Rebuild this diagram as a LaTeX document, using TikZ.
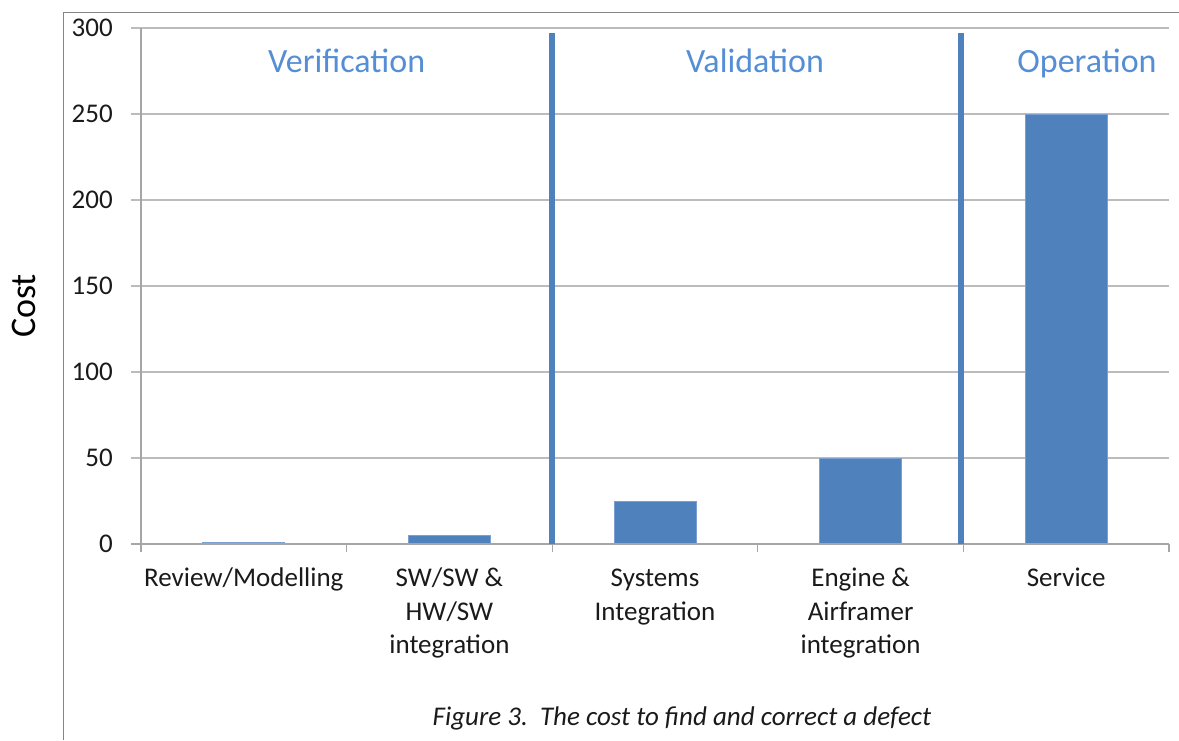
\documentclass[tikz,border=0pt]{standalone}
\usepackage{fontspec}
\setmainfont{Carlito}
\definecolor{barblue}{HTML}{4F81BD}
\definecolor{baredge}{HTML}{7A9FD0}
\definecolor{phaseblue}{HTML}{558ED5}
\definecolor{gridgray}{HTML}{BCBCBC}
\definecolor{axisgray}{HTML}{A6A6A6}
\definecolor{framegray}{HTML}{858585}
\definecolor{textdark}{HTML}{1A1A1A}
\tikzset{
  gridline/.style={draw=gridgray, line width=1.3pt},
  axisline/.style={draw=axisgray, line width=1.3pt},
  frameline/.style={draw=framegray, line width=1.4pt},
  barbox/.style={fill=barblue, draw=baredge, line width=0.8pt},
  sepline/.style={draw=barblue, line width=5.5pt},
  phaselabel/.style={text=phaseblue, font=\fontsize{34}{40}\selectfont, anchor=base, inner sep=0pt},
  ticklabel/.style={text=textdark, font=\fontsize{27}{33.5}\selectfont, anchor=east, inner sep=0pt},
  catlabel/.style={text=textdark, font=\fontsize{27}{33.5}\selectfont, anchor=base, inner sep=0pt},
  axistitle/.style={text=black, font=\fontsize{36}{42}\selectfont, inner sep=0pt},
  captionlabel/.style={text=textdark, font=\fontsize{27}{33}\selectfont\itshape, anchor=base, inner sep=0pt},
}
\begin{document}
\begin{tikzpicture}[x=1pt,y=-1pt]
\useasboundingbox (0,0) rectangle (1179,740);
% outer frame (top and left edges)
\draw[frameline] (63.5,740) -- (63.5,12.5) -- (1179,12.5);
% horizontal gridlines with tick labels
\foreach \v in {0,50,...,300}{
  \pgfmathsetmacro{\yy}{544-1.72*\v}
  \draw[gridline] (131,\yy) -- (1169,\yy);
  \node[ticklabel] (t\v) at (113,\yy) {\v};
}
% bars
\foreach \i/\v in {0/1,1/5,2/25,3/50,4/250}{
  \pgfmathsetmacro{\cx}{141+205.6*(\i+0.5)}
  \pgfmathsetmacro{\yt}{544-1.72*\v}
  \draw[barbox] (\cx-41,544) rectangle (\cx+41,\yt);
}
% axes
\draw[axisline] (141,28) -- (141,544);
\draw[axisline] (131,544) -- (1169,544);
\foreach \k in {0,...,5}{
  \pgfmathsetmacro{\tx}{141+205.6*\k}
  \draw[axisline] (\tx,544) -- (\tx,552);
}
% phase separators
\draw[sepline] (552,32.7) -- (552,544);
\draw[sepline] (961,32.7) -- (961,544);
% phase labels
\node[phaselabel] (pver) at (346.7,72.3) {Verification};
\node[phaselabel] (pval) at (755,72.3) {Validation};
\node[phaselabel] (pop) at (1087,72.3) {Operation};
% category labels
\node[catlabel] (c1) at (243.8,586.7) {\begin{tabular}[t]{@{}c@{}}Review/Modelling\end{tabular}};
\node[catlabel] (c2) at (449.4,586.7) {\begin{tabular}[t]{@{}c@{}}SW/SW \&\\HW/SW\\integration\end{tabular}};
\node[catlabel] (c3) at (655,586.7) {\begin{tabular}[t]{@{}c@{}}Systems\\Integration\end{tabular}};
\node[catlabel] (c4) at (860.6,586.7) {\begin{tabular}[t]{@{}c@{}}Engine \&\\Airframer\\integration\end{tabular}};
\node[catlabel] (c5) at (1066.2,586.7) {\begin{tabular}[t]{@{}c@{}}Service\end{tabular}};
% axis title
\node[axistitle, rotate=90] (cost) at (24,306) {Cost};
% caption
\node[captionlabel] (cap) at (682,725) {Figure 3.~~The cost to find and correct a defect};
\end{tikzpicture}
\end{document}
